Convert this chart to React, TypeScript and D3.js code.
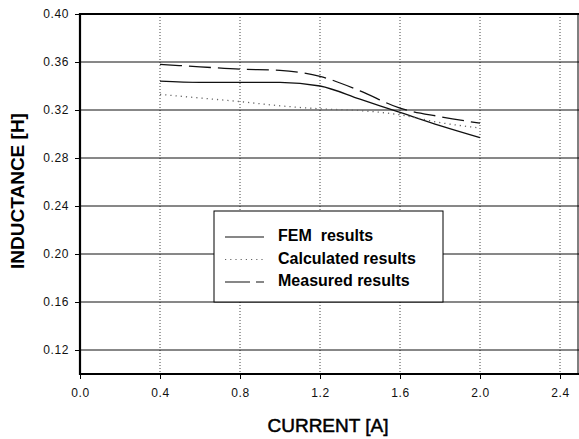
import React, { useEffect, useRef } from 'react';
import * as d3 from 'd3';

const currents = [0.4, 0.6, 0.8, 1.0, 1.2, 1.4, 1.6, 1.8, 2.0];
const femResults = [0.344, 0.343, 0.343, 0.343, 0.340, 0.329, 0.318, 0.307, 0.297];
const calculatedResults = [0.333, 0.330, 0.327, 0.3235, 0.321, 0.3195, 0.316, 0.3095, 0.305];
const measuredResults = [0.358, 0.356, 0.354, 0.353, 0.348, 0.336, 0.3215, 0.3145, 0.309];

const xTicks = [0.0, 0.4, 0.8, 1.2, 1.6, 2.0, 2.4];
const yTicks = [0.12, 0.16, 0.2, 0.24, 0.28, 0.32, 0.36, 0.4];
const legendLabels = ['FEM  results', 'Calculated results', 'Measured results'];

const W = 579;
const H = 439;
const FONT = '"Liberation Sans", Arial, sans-serif';

const App = () => {
  const svgRef = useRef<SVGSVGElement>(null);

  useEffect(() => {
    const svg = d3.select(svgRef.current);
    svg.selectAll('*').remove();

    const x = d3.scaleLinear().domain([0, 2.5]).range([80, 580]);
    const y = d3.scaleLinear().domain([0.1, 0.4]).range([374, 14]);

    // vertical dotted grid
    svg.append('g')
      .selectAll('line')
      .data(xTicks.filter((t) => t > 0))
      .join('line')
      .attr('x1', (d) => x(d)).attr('x2', (d) => x(d))
      .attr('y1', y(0.4)).attr('y2', y(0.1))
      .attr('stroke', '#444')
      .attr('stroke-width', 1)
      .attr('stroke-dasharray', '1,2');

    // horizontal solid grid
    svg.append('g')
      .selectAll('line')
      .data(yTicks.filter((t) => t < 0.4))
      .join('line')
      .attr('x1', x(0)).attr('x2', W)
      .attr('y1', (d) => y(d)).attr('y2', (d) => y(d))
      .attr('stroke', '#111')
      .attr('stroke-width', 1);

    // frame
    const frame = svg.append('g').attr('stroke', '#000').attr('fill', 'none');
    frame.append('line').attr('x1', x(0)).attr('x2', W).attr('y1', y(0.4)).attr('y2', y(0.4)).attr('stroke-width', 2.2);
    frame.append('line').attr('x1', x(0)).attr('x2', W).attr('y1', y(0.1)).attr('y2', y(0.1)).attr('stroke-width', 2.2);
    frame.append('line').attr('x1', x(0)).attr('x2', x(0)).attr('y1', y(0.4) - 1).attr('y2', y(0.1) + 1).attr('stroke-width', 2.2);
    frame.append('line').attr('x1', W - 1).attr('x2', W - 1).attr('y1', y(0.4)).attr('y2', y(0.1)).attr('stroke-width', 1);

    // y axis ticks + labels
    const yAxis = d3.axisLeft(y).tickValues(yTicks).tickFormat(d3.format('.2f')).tickSize(5).tickPadding(6);
    const gy = svg.append('g').attr('transform', `translate(${x(0)},0)`).call(yAxis);
    gy.select('.domain').remove();
    gy.selectAll('text')
      .attr('font-family', FONT).attr('font-size', 12).attr('letter-spacing', 0.6)
      .attr('fill', '#111');
    gy.selectAll('line').attr('stroke', '#000');

    // x axis ticks + labels
    const xAxis = d3.axisBottom(x).tickValues(xTicks).tickFormat(d3.format('.1f')).tickSize(5).tickPadding(9);
    const gx = svg.append('g').attr('transform', `translate(0,${y(0.1)})`).call(xAxis);
    gx.select('.domain').remove();
    gx.selectAll('text')
      .attr('font-family', FONT).attr('font-size', 12).attr('letter-spacing', 0.6)
      .attr('fill', '#111');
    gx.selectAll('line').attr('stroke', '#000');

    // curves
    const line = d3.line<number>()
      .x((_, i) => x(currents[i]))
      .y((d) => y(d))
      .curve(d3.curveMonotoneX);

    const series = [
      { values: femResults, dash: null, color: '#111', width: 1.3 },
      { values: calculatedResults, dash: '1.2,4', color: '#666', width: 1.3 },
      { values: measuredResults, dash: '22,7', color: '#111', width: 1.3 },
    ];
    series.forEach((s) => {
      svg.append('path')
        .datum(s.values)
        .attr('d', line)
        .attr('fill', 'none')
        .attr('stroke', s.color)
        .attr('stroke-width', s.width)
        .attr('stroke-dasharray', s.dash);
    });

    // legend
    const lg = svg.append('g');
    lg.append('rect')
      .attr('x', 214).attr('y', 211).attr('width', 229).attr('height', y(0.16) - 211)
      .attr('fill', '#fff').attr('stroke', '#000').attr('stroke-width', 1);
    legendLabels.forEach((label, i) => {
      const cy = 237 + i * 22.5;
      const s = series[i];
      lg.append('line')
        .attr('x1', 225).attr('x2', 264).attr('y1', cy).attr('y2', cy)
        .attr('stroke', s.color).attr('stroke-width', 1.2)
        .attr('stroke-dasharray', i === 2 ? '25,6,8,100' : s.dash);
      lg.append('text')
        .attr('x', 278).attr('y', cy + 4)
        .attr('font-family', FONT).attr('font-size', 16).attr('font-weight', 'bold')
        .attr('fill', '#000')
        .style('white-space', 'pre')
        .text(label);
    });

    // axis titles
    svg.append('text')
      .attr('x', 328).attr('y', 432)
      .attr('text-anchor', 'middle')
      .attr('font-family', FONT).attr('font-size', 19)
      .attr('fill', '#000').attr('stroke', '#000').attr('stroke-width', 0.5)
      .text('CURRENT [A]');

    svg.append('text')
      .attr('transform', 'translate(24,191) rotate(-90)')
      .attr('text-anchor', 'middle')
      .attr('font-family', FONT).attr('font-size', 19).attr('font-weight', 'bold')
      .attr('fill', '#000')
      .text('INDUCTANCE [H]');
  }, []);

  return (
    <svg
      ref={svgRef}
      width={W}
      height={H}
      style={{ position: 'absolute', left: 0, top: 0, background: '#fff' }}
    />
  );
};

export default App;
